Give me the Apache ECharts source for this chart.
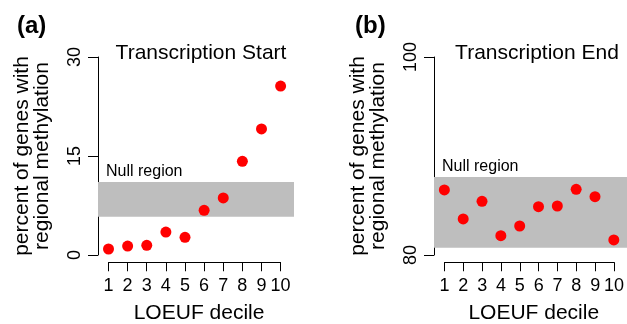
<!DOCTYPE html>
<html>
<head>
<meta charset="utf-8">
<script src="https://cdn.jsdelivr.net/npm/echarts@6/dist/echarts.min.js"></script>
<style>html,body{margin:0;padding:0;background:#fff;}#c{width:627px;height:324px;}</style>
</head>
<body>
<div id="c"></div>
<script>
const deciles = [1, 2, 3, 4, 5, 6, 7, 8, 9, 10];
const startPct = [0.91, 1.36, 1.47, 3.48, 2.68, 6.77, 8.64, 14.2, 19.1, 25.6];
const endPct = [86.57, 83.64, 85.42, 81.95, 82.93, 84.88, 84.95, 86.63, 85.89, 81.52];
const startNull = [5.8, 11.06];
const endNull = [80.74, 87.88];
const startTicks = [0, 15, 30];
const endTicks = [80, 100];
const panelTitles = ['Transcription Start', 'Transcription End'];
const panelTags = ['(a)', '(b)'];
const xTitle = 'LOEUF decile';
const yTitle = 'percent of genes with\nregional methylation';
const nullLabel = 'Null region';

const FONT = '"Liberation Sans", Arial, Helvetica, sans-serif';
const XMIN = 0.45, XMAX = 10.7;

function yAxisFor(grid, ticks) {
  return {
    gridIndex: grid, type: 'value',
    min: ticks[0], max: ticks[ticks.length - 1], interval: ticks[1] - ticks[0],
    axisLine: {show: true, lineStyle: {color: '#000', width: 1}},
    axisTick: {show: true, length: 10, lineStyle: {color: '#000', width: 1}},
    axisLabel: {show: true, rotate: 90, margin: 14, color: '#000', fontSize: 18, fontFamily: FONT},
    splitLine: {show: false},
    name: yTitle, nameLocation: 'middle', nameRotate: 90, nameGap: 46,
    nameTextStyle: {color: '#000', fontSize: 21, fontFamily: FONT, lineHeight: 20}
  };
}
function xAxisTicks(grid) {
  return {
    gridIndex: grid, type: 'value', min: 1, max: 10, interval: 1,
    axisLine: {show: true, lineStyle: {color: '#000', width: 1}},
    axisTick: {show: true, length: 9, lineStyle: {color: '#000', width: 1}},
    axisLabel: {show: true, margin: 15, color: '#000', fontSize: 18, fontFamily: FONT},
    splitLine: {show: false},
    name: xTitle, nameLocation: 'middle', nameGap: 40,
    nameTextStyle: {color: '#000', fontSize: 21, fontFamily: FONT, padding: [0, 0, 0, 9]}
  };
}
function hiddenX(grid) {
  return {gridIndex: grid, type: 'value', min: XMIN, max: XMAX, show: false};
}
function hiddenY(grid) {
  return {gridIndex: grid, type: 'value', min: 0, max: 1, show: false};
}
function scatter(idx, vals, band) {
  return {
    type: 'scatter', xAxisIndex: idx, yAxisIndex: idx,
    data: deciles.map((d, i) => [d, vals[i]]),
    symbol: 'circle', symbolSize: 11,
    itemStyle: {color: '#FF0000', opacity: 1},
    silent: true, z: 3,
    markArea: {
      silent: true,
      itemStyle: {color: '#BEBEBE', opacity: 1},
      label: {show: true, position: [8, -10], verticalAlign: 'middle', align: 'left',
              color: '#000', fontSize: 16, fontFamily: FONT},
      data: [[{name: nullLabel, xAxis: XMIN, yAxis: band[0]}, {xAxis: XMAX, yAxis: band[1]}]]
    }
  };
}

const chart = echarts.init(document.getElementById('c'), null, {renderer: 'canvas'});
chart.setOption({
  animation: false,
  backgroundColor: '#fff',
  title: [
    {text: panelTitles[0], left: 196, top: 38, textAlign: 'center',
     textStyle: {fontSize: 21, fontWeight: 'normal', color: '#000', fontFamily: FONT}},
    {text: panelTitles[1], left: 532, top: 38, textAlign: 'center',
     textStyle: {fontSize: 21, fontWeight: 'normal', color: '#000', fontFamily: FONT}},
    {text: panelTags[0], left: 12, top: 9,
     textStyle: {fontSize: 24, fontWeight: 'bold', color: '#000', fontFamily: FONT}},
    {text: panelTags[1], left: 350, top: 9,
     textStyle: {fontSize: 24, fontWeight: 'bold', color: '#000', fontFamily: FONT}}
  ],
  grid: [
    {left: 98, top: 57, width: 196, height: 198},
    {left: 108.5, top: 262, width: 172.1, height: 1},
    {left: 434, top: 57, width: 196, height: 198},
    {left: 444.5, top: 262, width: 172.1, height: 1}
  ],
  xAxis: [hiddenX(0), xAxisTicks(1), hiddenX(2), xAxisTicks(3)],
  yAxis: [yAxisFor(0, startTicks), hiddenY(1), yAxisFor(2, endTicks), hiddenY(3)],
  series: [scatter(0, startPct, startNull), scatter(2, endPct, endNull)]
});
</script>
</body>
</html>
